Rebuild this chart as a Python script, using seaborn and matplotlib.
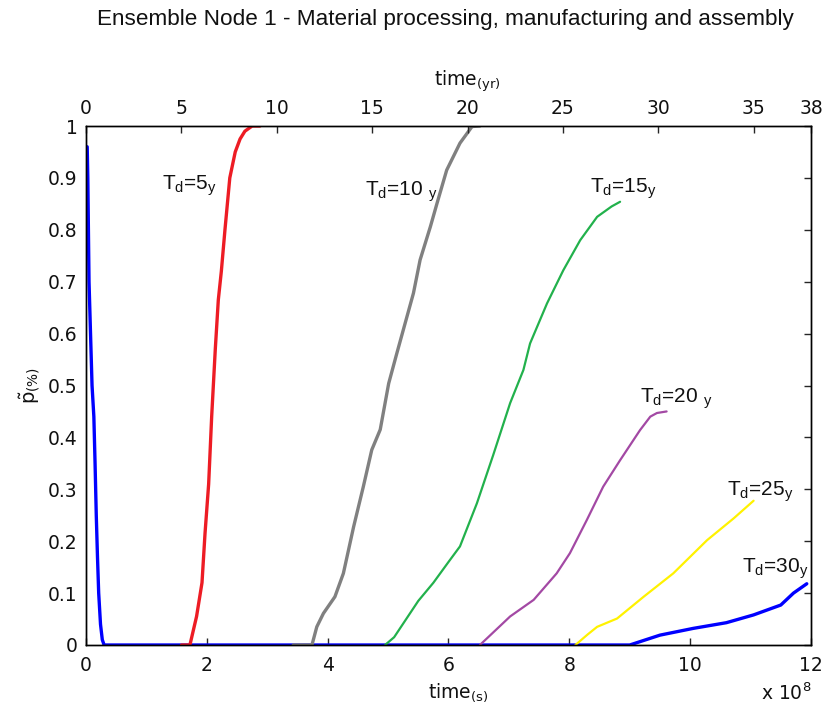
import matplotlib
matplotlib.use("Agg")
import matplotlib.pyplot as plt
import seaborn as sns
import pandas as pd

# time in units of 1e8 s, probability fraction
blue_t = [0.02, 0.03, 0.04, 0.05, 0.07, 0.10, 0.13, 0.15, 0.17, 0.19, 0.21, 0.24, 0.27, 0.30,
          9.00, 9.50, 10.05, 10.60, 11.05, 11.50, 11.71, 11.93]
blue_p = [0.96, 0.90, 0.80, 0.70, 0.62, 0.50, 0.44, 0.35, 0.25, 0.17, 0.10, 0.04, 0.01, 0.0,
          0.0, 0.019, 0.032, 0.043, 0.058, 0.077, 0.10, 0.118]

red_t = [1.58, 1.72, 1.76, 1.83, 1.92, 1.97, 2.03, 2.08, 2.14, 2.19, 2.24, 2.30, 2.38, 2.47,
         2.55, 2.63, 2.75, 2.88]
red_p = [0.0, 0.0, 0.02, 0.055, 0.12, 0.215, 0.31, 0.44, 0.57, 0.665, 0.72, 0.80, 0.90, 0.95,
         0.975, 0.99, 1.0, 1.0]

gray_t = [3.43, 3.74, 3.82, 3.93, 4.12, 4.26, 4.43, 4.59, 4.73, 4.87, 5.01, 5.14, 5.42, 5.53,
          5.70, 5.81, 5.97, 6.19, 6.39, 6.52]
gray_p = [0.0, 0.0, 0.035, 0.061, 0.093, 0.138, 0.228, 0.305, 0.376, 0.415, 0.504, 0.56, 0.678,
          0.742, 0.806, 0.851, 0.915, 0.967, 0.999, 1.0]

green_t = [4.95, 5.10, 5.30, 5.50, 5.75, 6.00, 6.19, 6.47, 6.74, 7.02, 7.24, 7.35, 7.63, 7.90,
           8.18, 8.46, 8.70, 8.84]
green_p = [0.0, 0.015, 0.05, 0.085, 0.12, 0.16, 0.19, 0.273, 0.366, 0.466, 0.53, 0.581, 0.658,
           0.722, 0.78, 0.825, 0.845, 0.854]

purple_t = [6.52, 7.02, 7.41, 7.79, 8.01, 8.29, 8.56, 8.84, 9.17, 9.34, 9.45, 9.61]
purple_p = [0.0, 0.055, 0.087, 0.138, 0.177, 0.241, 0.305, 0.356, 0.414, 0.44, 0.447, 0.45]

yellow_t = [8.10, 8.30, 8.46, 8.79, 9.23, 9.72, 10.28, 10.72, 11.05]
yellow_p = [0.0, 0.02, 0.035, 0.051, 0.093, 0.138, 0.202, 0.244, 0.278]

series_names = ["Td=30y", "Td=5y", "Td=10y", "Td=15y", "Td=20y", "Td=25y"]
series_t = [blue_t, red_t, gray_t, green_t, purple_t, yellow_t]
series_p = [blue_p, red_p, gray_p, green_p, purple_p, yellow_p]
series_colors = ["#0000FF", "#ED1C24", "#808080", "#22B14C", "#A349A4", "#FFF200"]
series_widths = [2.4, 2.4, 2.4, 1.6, 1.6, 1.6]

label_text = [r"T$_\mathregular{d}$=5$_\mathregular{y}$", r"T$_\mathregular{d}$=10 $_\mathregular{y}$",
              r"T$_\mathregular{d}$=15$_\mathregular{y}$", r"T$_\mathregular{d}$=20 $_\mathregular{y}$",
              r"T$_\mathregular{d}$=25$_\mathregular{y}$", r"T$_\mathregular{d}$=30$_\mathregular{y}$"]
label_x = [1.25, 4.62, 8.34, 9.17, 10.61, 10.86]
label_y = [0.878, 0.865, 0.871, 0.466, 0.287, 0.139]

year_ticks = [0, 5, 10, 15, 20, 25, 30, 35, 38]

sns.set_style("white")
plt.rcParams["font.family"] = ["DejaVu Sans"]
plt.rcParams["mathtext.default"] = "regular"
ink = "#111111"

frames = []
for name, t, p in zip(series_names, series_t, series_p):
    frames.append(pd.DataFrame({"time": t, "p": p, "series": name}))
df = pd.concat(frames, ignore_index=True)

fig = plt.figure(figsize=(8.26, 7.07), dpi=100)
ax = fig.add_axes([86 / 826, 62 / 707, 725 / 826, 519 / 707])

for name, color, lw in zip(series_names, series_colors, series_widths):
    sns.lineplot(data=df[df["series"] == name], x="time", y="p", color=color,
                 linewidth=lw, sort=False, estimator=None, ax=ax, legend=False)

ax.set_xlim(0, 12)
ax.set_ylim(0, 1)
ax.set_xticks(range(0, 13, 2))
ax.set_yticks([i / 10 for i in range(11)])
ax.set_yticklabels(["0"] + [f"{i / 10:g}" for i in range(1, 10)] + ["1"])

for txt, x, y in zip(label_text, label_x, label_y):
    ax.text(x, y, txt, ha="left", va="baseline", fontsize=15, family="Liberation Sans", color=ink)

ax2 = ax.twiny()
ax2.set_xlim(0, 38)
ax2.set_xticks(year_ticks)
ax2.tick_params(axis="x", direction="in", length=5, width=1, pad=6, labelsize=13.5,
                labelcolor=ink)
ax2.set_xlabel(r"time$_\mathregular{(yr)}$", fontsize=13.5, color=ink)
ax2.xaxis.set_label_coords(0.526, 1.061)
ax2.xaxis.label.set_va("bottom")

ax.tick_params(axis="both", direction="in", length=5, width=1, labelsize=13.5, labelcolor=ink)
ax.tick_params(axis="y", right=True, pad=6)
ax.tick_params(axis="x", bottom=True, top=False, pad=8)
ax.set_xlabel(r"time$_\mathregular{(s)}$", fontsize=13.5, color=ink)
ax.xaxis.set_label_coords(0.514, -0.0713)
ax.xaxis.label.set_va("top")
ax.set_ylabel(r"$\tilde{\mathrm{p}}_\mathregular{(\%)}$", fontsize=14, color=ink)
ax.yaxis.set_label_coords(-0.061, 0.5)
ax.text(1.0, -0.073, r"x 10$^\mathregular{8}$", transform=ax.transAxes, ha="right", va="top",
        fontsize=13.5, color=ink)

for a in (ax, ax2):
    for s in a.spines.values():
        s.set_color("black")
        s.set_linewidth(1.0)

fig.text(445 / 826, 1 - 20 / 707, "Ensemble Node 1 - Material processing, manufacturing and assembly",
         ha="center", va="center", fontsize=16.2, family="Liberation Sans", color=ink)

fig.savefig("out.png", dpi=100)
